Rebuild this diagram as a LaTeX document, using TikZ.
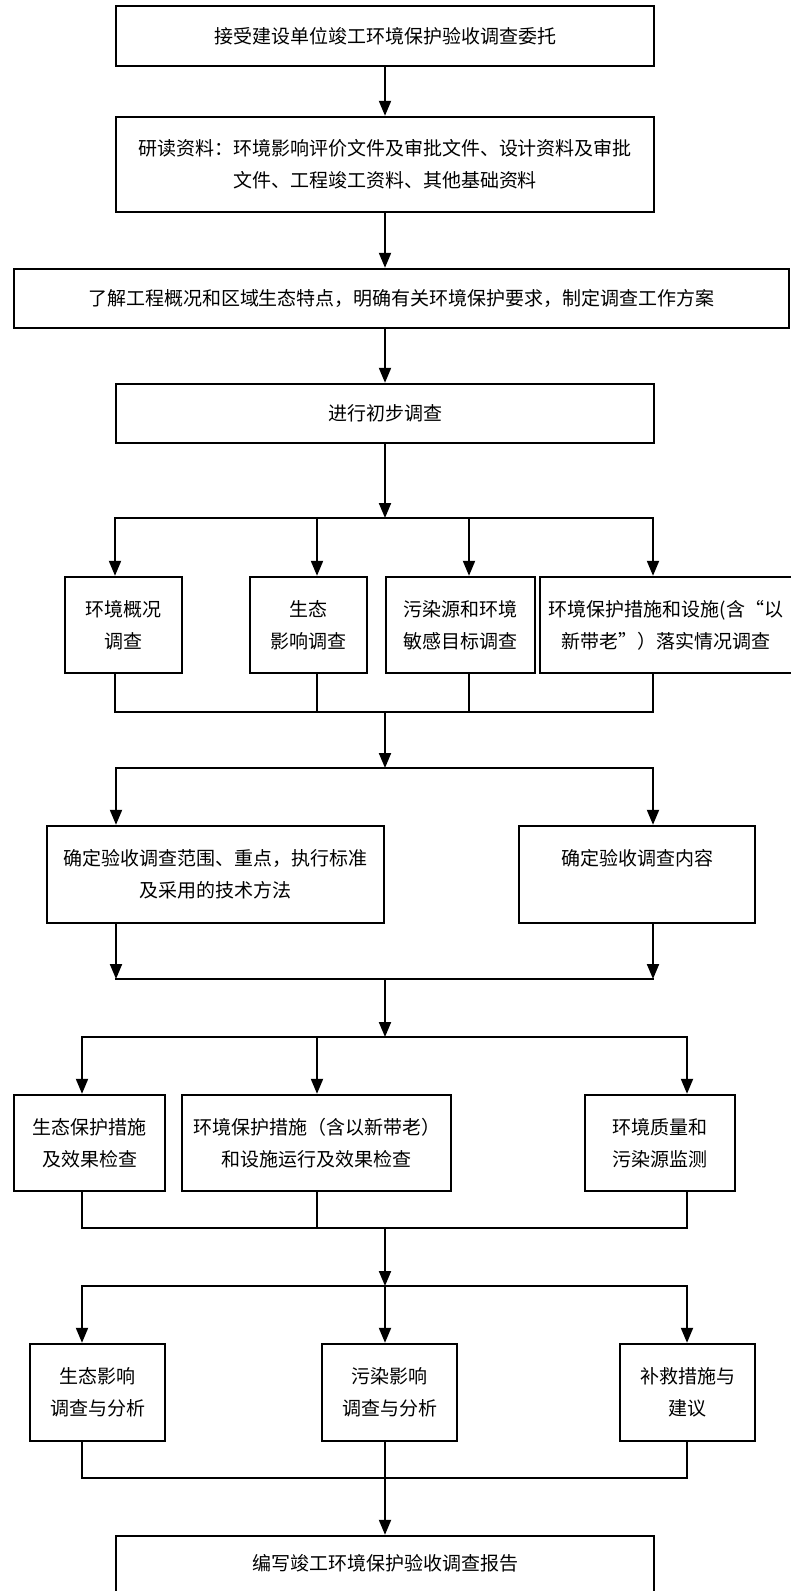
\documentclass[tikz,border=0pt]{standalone}
\usepackage{fontspec}
\setmainfont{Noto Sans CJK SC}
\usetikzlibrary{arrows.meta}

\begin{document}
\begin{tikzpicture}[x=1pt,y=-1pt,>={Triangle[length=15pt,width=12pt]},
  box/.style={draw,line width=2.4pt,align=center,inner sep=2pt,
    font=\fontsize{19}{32}\selectfont},
  line/.style={line width=2pt,line cap=rect}]
\fill[white] (0,0) rectangle (791,1591);
\useasboundingbox (0,0) rectangle (791,1591);

% main column
\node[box,minimum width=538pt,minimum height=60pt] (accept) at (385,36) {接受建设单位竣工环境保护验收调查委托};
\node[box,minimum width=538pt,minimum height=95pt] (study) at (385,164.5) {研读资料：环境影响评价文件及审批文件、设计资料及审批\\文件、工程竣工资料、其他基础资料};
\node[box,minimum width=775pt,minimum height=59pt] (plan) at (401.5,298.5) {了解工程概况和区域生态特点，明确有关环境保护要求，制定调查工作方案};
\node[box,minimum width=538pt,minimum height=59pt] (prelim) at (385,413.5) {进行初步调查};

% first row
\node[box,minimum width=117pt,minimum height=96pt] (general) at (123.5,625) {环境概况\\调查};
\node[box,minimum width=117pt,minimum height=96pt] (ecoinv) at (308.5,625) {生态\\影响调查};
\node[box,minimum width=149pt,minimum height=96pt] (source) at (460.5,625) {污染源和环境\\敏感目标调查};
\node[box,minimum width=252pt,minimum height=96pt] (measure) at (666,625) {环境保护措施和设施(含“以\\新带老”）落实情况调查};

% second row
\node[box,minimum width=337pt,minimum height=97pt] (scope) at (215.5,874.5) {确定验收调查范围、重点，执行标准\\及采用的技术方法};
\node[box,minimum width=236pt,minimum height=97pt] (content) at (637,874.5) {确定验收调查内容\\ \phantom{容}};

% third row
\node[box,minimum width=151pt,minimum height=96pt] (ecoprot) at (89.5,1143) {生态保护措施\\及效果检查};
\node[box,minimum width=269pt,minimum height=96pt] (envprot) at (316.5,1143) {环境保护措施（含以新带老）\\和设施运行及效果检查};
\node[box,minimum width=150pt,minimum height=96pt] (monitor) at (660,1143) {环境质量和\\污染源监测};

% fourth row
\node[box,minimum width=135pt,minimum height=97pt] (ecoana) at (97.5,1392.5) {生态影响\\调查与分析};
\node[box,minimum width=135pt,minimum height=97pt] (pollana) at (389.5,1392.5) {污染影响\\调查与分析};
\node[box,minimum width=135pt,minimum height=97pt] (remedy) at (687.5,1392.5) {补救措施与\\建议};

\node[box,minimum width=538pt,minimum height=86pt] (report) at (385,1579) {编写竣工环境保护验收调查报告\\ \phantom{告}};

% top arrows
\draw[line,->] (accept) -- (study);
\draw[line,->] (study) -- (study.south |- plan.north);
\draw[line,->] (prelim.north |- plan.south) -- (prelim);

% fan out, first row
\coordinate (split1) at (385,518);
\draw[line,->] (prelim) -- (split1);
\foreach \x/\n in {115/general,317/ecoinv,469/source,653/measure}{
  \coordinate (in-\n) at (\x,518);
  \coordinate (out-\n) at (\x,712);
  \draw[line,->] (in-\n) -- (in-\n |- \n.north);
  \draw[line] (in-\n |- \n.south) -- (out-\n);
}
\draw[line] (in-general) -- (in-measure);
\draw[line] (out-general) -- (out-measure);

% second row
\coordinate (merge1) at (385,712);
\coordinate (split2) at (385,768);
\draw[line,->] (merge1) -- (split2);
\coordinate (in-scope) at (116,768);
\coordinate (in-content) at (653,768);
\coordinate (out-scope) at (116,979);
\coordinate (out-content) at (653,979);
\draw[line] (in-scope) -- (in-content);
\draw[line,->] (in-scope) -- (in-scope |- scope.north);
\draw[line,->] (in-content) -- (in-content |- content.north);
\draw[line,->] (out-scope |- scope.south) -- (out-scope);
\draw[line,->] (out-content |- content.south) -- (out-content);
\draw[line] (out-scope) -- (out-content);

% third row
\coordinate (merge2) at (385,979);
\coordinate (split3) at (385,1037);
\draw[line,->] (merge2) -- (split3);
\foreach \x/\n in {82/ecoprot,317/envprot,687/monitor}{
  \coordinate (in-\n) at (\x,1037);
  \coordinate (out-\n) at (\x,1228);
  \draw[line,->] (in-\n) -- (in-\n |- \n.north);
  \draw[line] (in-\n |- \n.south) -- (out-\n);
}
\draw[line] (in-ecoprot) -- (in-monitor);
\draw[line] (out-ecoprot) -- (out-monitor);

% fourth row
\coordinate (merge3) at (385,1228);
\coordinate (split4) at (385,1286);
\draw[line,->] (merge3) -- (split4);
\foreach \x/\n in {82/ecoana,385/pollana,687/remedy}{
  \coordinate (in-\n) at (\x,1286);
  \draw[line,->] (in-\n) -- (in-\n |- \n.north);
}
\draw[line] (in-ecoana) -- (in-remedy);
\coordinate (out-ecoana) at (82,1478);
\coordinate (out-remedy) at (687,1478);
\draw[line] (out-ecoana |- ecoana.south) -- (out-ecoana) -- (out-remedy) -- (out-remedy |- remedy.south);
\draw[line,->] (in-pollana |- pollana.south) -- (in-pollana |- report.north);
\end{tikzpicture}
\end{document}
